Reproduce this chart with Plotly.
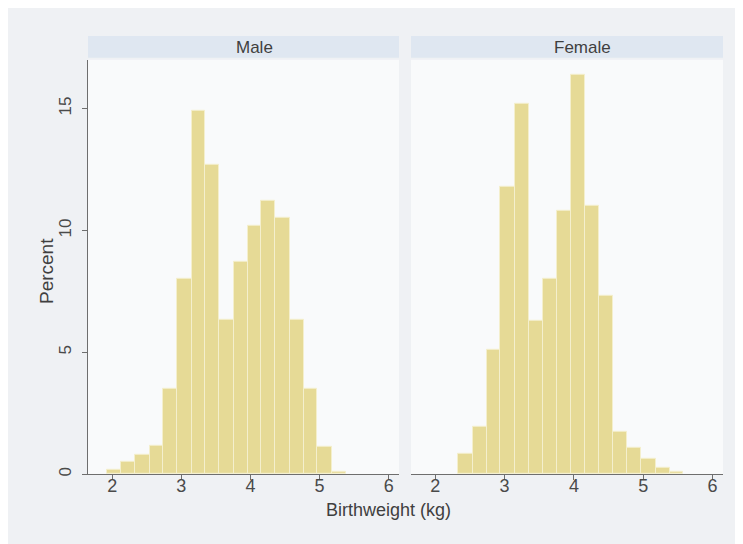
import numpy as np
import plotly.graph_objects as go

# ---- data ----
bin_edges = [1.93, 2.13, 2.33, 2.54, 2.74, 2.94, 3.15, 3.35, 3.55, 3.76,
             3.96, 4.16, 4.36, 4.57, 4.77, 4.97, 5.18, 5.38, 5.58]
male_pct = [0.2, 0.5, 0.8, 1.15, 3.5, 8.0, 14.9, 12.7, 6.35, 8.7,
            10.2, 11.2, 10.5, 6.35, 3.5, 1.12, 0.1, 0.0]
female_pct = [0.0, 0.0, 0.86, 1.95, 5.1, 11.8, 15.2, 6.3, 8.0, 10.8,
              16.4, 11.0, 7.3, 1.75, 1.1, 0.63, 0.27, 0.12]
panels = ["Male", "Female"]
x_ticks = [2, 3, 4, 5, 6]
y_ticks = [0, 5, 10, 15]

edges = np.array(bin_edges)
centers = (edges[:-1] + edges[1:]) / 2
widths = np.diff(edges)

W, H = 743, 544
BAR = "#e6da96"
BAR_LINE = "#f4efcd"
AX = "#6e6e6e"
TXT = "#4a4a4a"
FONT = "Liberation Sans, Arial, sans-serif"

fig = go.Figure()
for vals, xa, ya in [(male_pct, "x", "y"), (female_pct, "x2", "y2")]:
    v = np.array(vals)
    keep = v > 0
    fig.add_trace(go.Bar(x=centers[keep], y=v[keep], width=widths[keep],
                         xaxis=xa, yaxis=ya,
                         marker=dict(color=BAR, line=dict(color=BAR_LINE, width=1)),
                         showlegend=False))

def px(x):
    return x / W

def py(y):
    return 1 - y / H

male_dom = [px(80), px(391)]
fem_dom = [px(403), px(715)]
y_dom = [py(468), py(52)]

xcommon = dict(range=[1.65, 6.15], tickvals=x_ticks, ticks="outside", ticklen=5,
               tickcolor=AX, showline=True, linecolor=AX, linewidth=1,
               showgrid=False, zeroline=False, ticklabelstandoff=-10,
               tickfont=dict(family=FONT, size=18, color=TXT))
ycommon = dict(range=[0, 17], tickvals=y_ticks, showgrid=False, zeroline=False)

fig.update_layout(
    width=W, height=H,
    margin=dict(l=0, r=0, t=0, b=0),
    paper_bgcolor="#eff1f4",
    plot_bgcolor="#f9fafb",
    bargap=0,
    xaxis=dict(domain=male_dom, anchor="y", **xcommon),
    xaxis2=dict(domain=fem_dom, anchor="y2", **xcommon),
    yaxis=dict(domain=y_dom, anchor="x", ticks="outside", ticklen=5, tickcolor=AX,
               showline=True, linecolor=AX, linewidth=1, tickangle=-90,
               ticklabelstandoff=4,
               tickfont=dict(family=FONT, size=17, color=TXT), **ycommon),
    yaxis2=dict(domain=y_dom, anchor="x2", showticklabels=False, showline=False,
                ticks="", **ycommon),
    font=dict(family=FONT, color=TXT),
)

# strip headers
for dom, name, tx in [(male_dom, panels[0], 246), (fem_dom, panels[1], 574)]:
    fig.add_shape(type="rect", xref="paper", yref="paper",
                  x0=dom[0], x1=dom[1], y0=py(50), y1=py(28),
                  fillcolor="#dfe7f1", line=dict(width=0), layer="below")
    fig.add_annotation(text=name, xref="paper", yref="paper", x=px(tx), y=py(40),
                       showarrow=False, font=dict(family=FONT, size=17, color="#3f3f3f"),
                       xanchor="center", yanchor="middle")

fig.add_annotation(text="Birthweight (kg)", xref="paper", yref="paper",
                   x=px(380), y=py(504), showarrow=False,
                   font=dict(family=FONT, size=18, color="#3f3f3f"),
                   xanchor="center", yanchor="middle")
fig.add_annotation(text="Percent", xref="paper", yref="paper",
                   x=px(38), y=py(264), showarrow=False, textangle=-90,
                   font=dict(family=FONT, size=19, color="#3f3f3f"),
                   xanchor="center", yanchor="middle")

fig.write_html("out.html")
